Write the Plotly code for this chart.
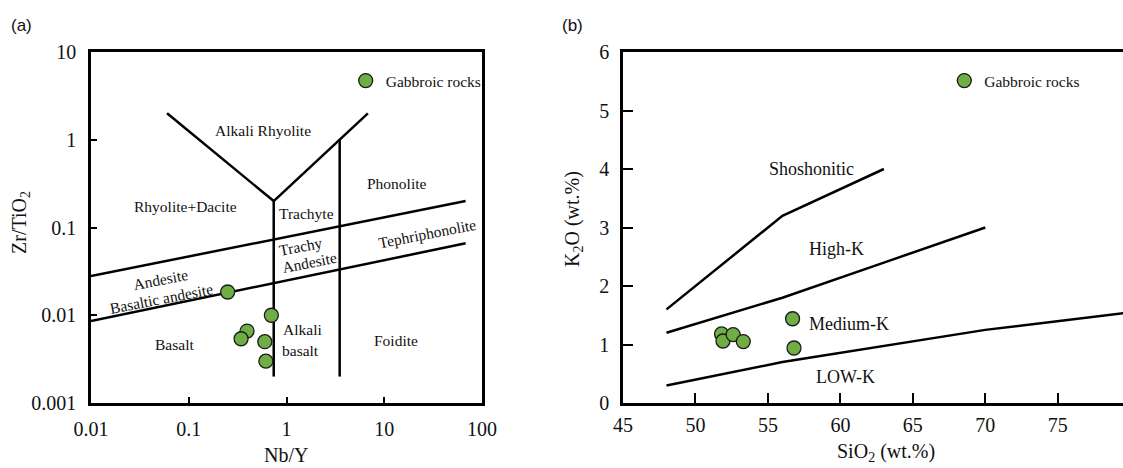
import math
import plotly.graph_objects as go

W, H = 1123, 468

# ---- sample data: gabbroic rocks ----
nb_y = [0.25, 0.70, 0.395, 0.343, 0.60, 0.615]
zr_tio2 = [0.0184, 0.0100, 0.0066, 0.0054, 0.0050, 0.0030]

sio2 = [56.7, 56.8, 51.8, 51.9, 52.6, 53.3]
k2o = [1.44, 0.94, 1.18, 1.06, 1.17, 1.05]

# ---- classification boundaries, Nb/Y vs Zr/TiO2 ----
v_left_x = [0.06, 0.74]
v_left_y = [2.0, 0.2]
v_right_x = [0.74, 6.8]
v_right_y = [0.2, 2.0]
trachyte_x = [0.74, 0.74]
trachyte_y = [0.2, 0.002]
phonolite_x = [3.5, 3.5]
phonolite_y = [1.0, 0.002]
upper_x = [0.01, 68]
upper_y = [0.028, 0.2]
lower_x = [0.01, 68]
lower_y = [0.0086, 0.066]

# ---- K2O-SiO2 series boundaries ----
shosh_x = [48, 56, 63]
shosh_y = [1.6, 3.2, 4.0]
highk_x = [48, 52, 56, 63, 70]
highk_y = [1.2, 1.5, 1.8, 2.4, 3.0]
lowk_x = [48, 56, 70, 80]
lowk_y = [0.3, 0.7, 1.25, 1.55]

x_ticks_a = [0.01, 0.1, 1, 10, 100]
x_ticktext_a = ["0.01", "0.1", "1", "10", "100"]
y_ticks_a = [0.001, 0.01, 0.1, 1, 10]
y_ticktext_a = ["0.001", "0.01", "0.1", "1", "10"]
x_ticks_b = [45, 50, 55, 60, 65, 70, 75]
y_ticks_b = [0, 1, 2, 3, 4, 5, 6]

SERIF = "Liberation Serif, Times New Roman, serif"
SANS = "Liberation Sans, Arial, sans-serif"
GREEN = "#6fae45"
INK = "#111111"

fig = go.Figure()

line_style = dict(color="black", width=2.5)
for xs, ys in [(v_left_x, v_left_y), (v_right_x, v_right_y),
               (trachyte_x, trachyte_y), (phonolite_x, phonolite_y),
               (upper_x, upper_y), (lower_x, lower_y)]:
    fig.add_trace(go.Scatter(x=xs, y=ys, mode="lines", line=line_style,
                             showlegend=False, hoverinfo="skip",
                             xaxis="x", yaxis="y"))

for xs, ys in [(shosh_x, shosh_y), (highk_x, highk_y), (lowk_x, lowk_y)]:
    fig.add_trace(go.Scatter(x=xs, y=ys, mode="lines", line=line_style,
                             showlegend=False, hoverinfo="skip",
                             xaxis="x2", yaxis="y2"))

marker = dict(size=14, color=GREEN, line=dict(color="#1a1a1a", width=1.3))
fig.add_trace(go.Scatter(x=nb_y, y=zr_tio2, mode="markers", marker=marker,
                         name="Gabbroic rocks", legend="legend",
                         xaxis="x", yaxis="y"))
fig.add_trace(go.Scatter(x=sio2, y=k2o, mode="markers", marker=marker,
                         name="Gabbroic rocks", legend="legend2",
                         xaxis="x2", yaxis="y2"))

# ---- region labels ----
def lab(text, x, y, xref, yref, size, angle=0, family=SERIF):
    fig.add_annotation(text=text, x=x, y=y, xref=xref, yref=yref,
                       xanchor="center", yanchor="middle",
                       showarrow=False, textangle=angle,
                       font=dict(family=family, size=size, color=INK))

A = 15.5
lab("Alkali Rhyolite", -0.241, 0.100, "x", "y", A)
lab("Phonolite", 1.126, -0.493, "x", "y", A)
lab("Rhyolite+Dacite", -1.036, -0.766, "x", "y", A)
lab("Trachyte", 0.205, -0.835, "x", "y", A)
lab("Tephriphonolite", 1.446, -1.074, "x", "y", A, angle=-11)
lab("Trachy", 0.144, -1.222, "x", "y", A, angle=-11)
lab("Andesite", 0.231, -1.404, "x", "y", A, angle=-11)
lab("Andesite", -1.284, -1.590, "x", "y", A, angle=-11)
lab("Basaltic andesite", -1.275, -1.807, "x", "y", A, angle=-11)
lab("Alkali", 0.161, -2.157, "x", "y", A)
lab("basalt", 0.144, -2.396, "x", "y", A)
lab("Basalt", -1.149, -2.328, "x", "y", A)
lab("Foidite", 1.118, -2.282, "x", "y", A)

B = 18
lab("Shoshonitic", 58.0, 4.0, "x2", "y2", B)
lab("High-K", 59.7, 2.64, "x2", "y2", B)
lab("Medium-K", 60.56, 1.345, "x2", "y2", B)
lab("LOW-K", 60.35, 0.45, "x2", "y2", B)

# ---- axis titles and panel tags ----
T = 20
lab("Nb/Y", 286 / W, 1 - 455 / H, "paper", "paper", T)
lab("SiO<sub>2</sub> (wt.%)", 885.5 / W, 1 - 452 / H, "paper", "paper", T)
lab("Zr/TiO<sub>2</sub>", 20 / W, 1 - 223 / H, "paper", "paper", T, angle=-90)
lab("K<sub>2</sub>O (wt.%)", 573 / W, 1 - 219 / H, "paper", "paper", T, angle=-90)

lab("(a)", 21 / W, 1 - 25 / H, "paper", "paper", 17, family=SANS)
lab("(b)", 572 / W, 1 - 25 / H, "paper", "paper", 17, family=SANS)

axis_common = dict(showline=True, linecolor="black", linewidth=2.6,
                   ticks="inside", tickcolor="black", tickwidth=2.4,
                   showgrid=False, zeroline=False, automargin=False,
                   tickfont=dict(family=SERIF, size=20, color=INK))

dom_top = 1 - 52 / H
dom_bot = 1 - 403 / H

fig.update_layout(
    template="none",
    width=W, height=H,
    margin=dict(l=0, r=0, t=0, b=0, autoexpand=False),
    paper_bgcolor="white", plot_bgcolor="white",
    xaxis=dict(type="log", domain=[91 / W, 482 / W], range=[-2, 2],
               tickvals=x_ticks_a, ticktext=x_ticktext_a, ticklen=6,
               mirror=True, anchor="y", ticklabelstandoff=6, **axis_common),
    yaxis=dict(type="log", domain=[dom_bot, dom_top], range=[-3, 1],
               tickvals=y_ticks_a, ticktext=y_ticktext_a, ticklen=6,
               mirror=True, anchor="x", ticklabelstandoff=8, **axis_common),
    xaxis2=dict(domain=[623 / W, 1.0], range=[45, 79.5],
                tickvals=x_ticks_b, ticklen=10,
                mirror=True, anchor="y2", ticklabelstandoff=2, **axis_common),
    yaxis2=dict(domain=[dom_bot, dom_top], range=[0, 6],
                tickvals=y_ticks_b, ticklen=10,
                mirror=False, anchor="x2", ticklabelstandoff=7, **axis_common),
    legend=dict(x=(365.7 - 20) / W, y=1 - 81 / H, xanchor="left", yanchor="middle",
                bgcolor="rgba(0,0,0,0)", itemsizing="trace", borderwidth=0,
                font=dict(family=SERIF, size=15.5, color=INK)),
    legend2=dict(x=(964.3 - 20) / W, y=1 - 81 / H, xanchor="left", yanchor="middle",
                 bgcolor="rgba(0,0,0,0)", itemsizing="trace", borderwidth=0,
                 font=dict(family=SERIF, size=15.5, color=INK)),
    showlegend=True,
)

fig.write_html("out.html")
